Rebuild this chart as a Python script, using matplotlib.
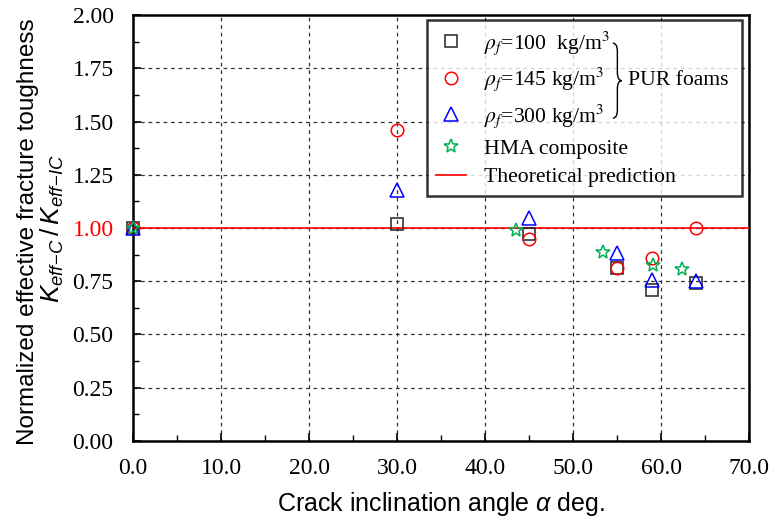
import matplotlib
matplotlib.use('Agg')
import matplotlib.pyplot as plt
import matplotlib.font_manager as fm
from matplotlib.path import Path
from matplotlib.patches import PathPatch
from matplotlib.ticker import MultipleLocator

# data
angle_100 = [0, 30, 45, 55, 59, 64]
k_100 = [1.00, 1.02, 0.97, 0.81, 0.71, 0.74]
angle_145 = [0, 30, 45, 55, 59, 64]
k_145 = [1.00, 1.46, 0.95, 0.81, 0.86, 1.00]
angle_300 = [0, 30, 45, 55, 59, 64]
k_300 = [1.00, 1.18, 1.045, 0.885, 0.755, 0.75]
angle_hma = [0, 43.5, 53.4, 59.1, 62.4]
k_hma = [1.00, 0.99, 0.888, 0.828, 0.808]
theory_x = [0, 70]
theory_y = [1.0, 1.0]

xticks = [0, 10, 20, 30, 40, 50, 60, 70]
yticks = [0.00, 0.25, 0.50, 0.75, 1.00, 1.25, 1.50, 1.75, 2.00]

plt.rcParams['mathtext.fontset'] = 'custom'
plt.rcParams['mathtext.rm'] = 'Liberation Sans'
plt.rcParams['mathtext.it'] = 'Liberation Sans:italic'

serif = 'Liberation Serif'
sans = 'Liberation Sans'

fig = plt.figure(figsize=(7.69, 5.20), dpi=100)
ax = fig.add_axes([0.173, 0.152, 0.801, 0.819])

mk = dict(linestyle='none', markerfacecolor='none', clip_on=False, zorder=4)
ax.plot(angle_100, k_100, 's', color='#222222', markersize=8.5, markeredgewidth=1.1,
        label=r'$\rho_f$=100  kg/m$^3$', **mk)
ax.plot(angle_145, k_145, 'o', color='red', markersize=9, markeredgewidth=1.1,
        label=r'$\rho_f$=145 kg/m$^3$', **mk)
ax.plot(angle_300, k_300, '^', color='blue', markersize=10, markeredgewidth=1.1,
        label=r'$\rho_f$=300 kg/m$^3$', **mk)
ax.plot(angle_hma, k_hma, '*', color='#00b050', markersize=10, markeredgewidth=1.1,
        label='HMA composite', **mk)
ax.plot(theory_x, theory_y, '-', color='red', lw=1.2, label='Theoretical prediction', zorder=3)

ax.set_xlim(0, 70)
ax.set_ylim(0, 2.0)
ax.set_xticks(xticks)
ax.set_xticklabels(['%.1f' % v for v in xticks], fontfamily=serif, fontsize=17)
ax.set_yticks(yticks)
ax.set_yticklabels(['%.2f' % v for v in yticks], fontfamily=serif, fontsize=17)
ax.get_yticklabels()[4].set_color('red')
ax.xaxis.set_minor_locator(MultipleLocator(5))
ax.yaxis.set_minor_locator(MultipleLocator(0.125))
ax.tick_params(which='major', direction='in', length=6, width=1.2)
ax.tick_params(which='minor', direction='in', length=4, width=1.0)
ax.tick_params(axis='x', which='major', pad=12)
ax.tick_params(axis='y', which='major', pad=14)

ax.grid(True, which='major', color='#333333', linestyle=(0, (3, 3)), linewidth=0.9)
ax.set_axisbelow(True)
for s in ax.spines.values():
    s.set_linewidth(1.8)

ax.set_xlabel(r'Crack inclination angle $\alpha$ deg.', fontfamily=sans, fontsize=18, labelpad=8)
fig.text(0.036, 0.555, 'Normalized effective fracture toughness', rotation=90,
         ha='center', va='center', fontfamily=sans, fontsize=17.5)
fig.text(0.068, 0.56, r'$K_{eff\!-\!C}\,/\,K_{eff\!-\!IC}$', rotation=90,
         ha='center', va='center', fontsize=19)

legFont = fm.FontProperties(family=serif, size=15.6, math_fontfamily='stix')
leg = ax.legend(loc='upper left', bbox_to_anchor=(0.477, 0.2, 0.511, 0.788), mode='expand',
                prop=legFont, frameon=True, fancybox=False, handlelength=1.4,
                handletextpad=0.8, labelspacing=0.4, borderaxespad=0, borderpad=0.42)
leg.get_frame().set_edgecolor('black')
leg.get_frame().set_linewidth(1.8)

# brace for the PUR foams group
bx, bw = 0.779, 0.0146
bt, bb = 0.934, 0.758
bm = (bt + bb) / 2
r = 0.02
verts = [(bx, bt), (bx + bw / 2, bt), (bx + bw / 2, bt - r),
         (bx + bw / 2, bm + r), (bx + bw / 2, bm), (bx + bw, bm),
         (bx + bw / 2, bm), (bx + bw / 2, bm - r),
         (bx + bw / 2, bb + r), (bx + bw / 2, bb), (bx, bb)]
codes = [Path.MOVETO, Path.CURVE3, Path.CURVE3,
         Path.LINETO, Path.CURVE3, Path.CURVE3,
         Path.CURVE3, Path.CURVE3,
         Path.LINETO, Path.CURVE3, Path.CURVE3]
brace = PathPatch(Path(verts, codes), transform=ax.transAxes, fill=False,
                  edgecolor='black', lw=1.0, zorder=6, clip_on=False)
ax.add_patch(brace)
ax.text(0.804, bm, 'PUR foams', transform=ax.transAxes, ha='left', va='center',
        fontfamily=serif, fontsize=15.6, zorder=6)

fig.savefig('out.png', dpi=100)
